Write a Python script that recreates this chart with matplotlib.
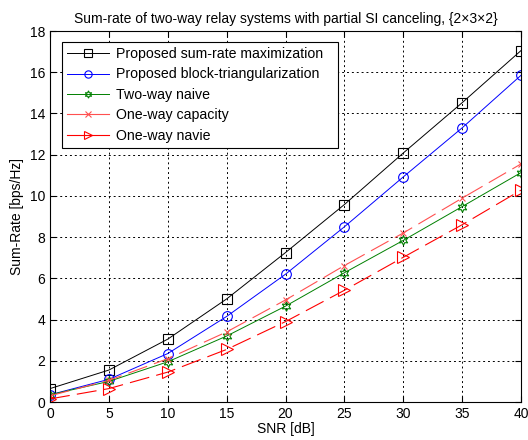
import matplotlib.pyplot as plt

plt.rcParams['font.family'] = ['Liberation Sans', 'DejaVu Sans']

snr = [0, 5, 10, 15, 20, 25, 30, 35, 40]
proposed_max = [0.65, 1.55, 3.05, 5.0, 7.25, 9.58, 12.08, 14.52, 17.05]
proposed_bt = [0.35, 1.1, 2.35, 4.15, 6.2, 8.5, 10.92, 13.3, 15.85]
two_way = [0.35, 1.0, 1.95, 3.2, 4.65, 6.27, 7.84, 9.48, 11.13]
one_way_cap = [0.3, 1.05, 2.1, 3.4, 4.95, 6.62, 8.2, 9.89, 11.55]
one_way_naive = [0.15, 0.65, 1.45, 2.55, 3.9, 5.42, 7.02, 8.6, 10.28]

fig = plt.figure(figsize=(5.28, 4.4), dpi=100)
ax = fig.add_axes([50/528, 1-402/440, 471/528, 371/440])

dash = (0, (18, 6.5))
ax.plot(snr, proposed_max, color='black', lw=0.7, marker='s', ms=7, mfc='none', mew=0.8,
        label='Proposed sum-rate maximization')
ax.plot(snr, proposed_bt, color='blue', lw=0.7, marker='o', ms=7, mfc='none', mew=0.8,
        label='Proposed block-triangularization')
ax.plot(snr, two_way, color='green', lw=0.7, marker=(6, 1, 0), ms=7, mfc='none', mew=0.8,
        label='Two-way naive')
ax.plot(snr, one_way_cap, color='#ff5050', lw=0.8, ls=dash, marker='x', ms=5, mew=0.8,
        label='One-way capacity')
ax.plot(snr, one_way_naive, color='red', lw=0.8, ls=dash, marker='>', ms=8, mfc='none', mew=0.8,
        label='One-way navie')

ax.set_xlim(0, 40)
ax.set_ylim(0, 18)
ax.set_xticks(range(0, 41, 5))
ax.set_yticks(range(0, 19, 2))
ax.grid(True, ls=(0, (2, 3)), color='black', lw=0.7)
ax.tick_params(direction='in', labelsize=10, top=True, right=True, length=4)
for s in ax.spines.values():
    s.set_linewidth(0.8)
ax.set_xlabel('SNR [dB]', fontsize=10, labelpad=1)
ax.set_ylabel('Sum-Rate [bps/Hz]', fontsize=10, labelpad=4)
ax.set_title('Sum-rate of two-way relay systems with partial SI canceling, {2\u00d73\u00d72}',
             fontsize=10, pad=6)

leg = ax.legend(loc='upper left', bbox_to_anchor=(0.025, 0.97, 0.586, 0), mode='expand',
                borderaxespad=0, fontsize=10.2, fancybox=False, edgecolor='black',
                framealpha=1, handlelength=3.0, labelspacing=0.45, borderpad=0.35,
                handletextpad=0.5, markerscale=0.75)
leg.get_frame().set_linewidth(0.8)
for h in leg.get_lines():
    h.set_linestyle('-')

fig.savefig('out.png', dpi=100)
